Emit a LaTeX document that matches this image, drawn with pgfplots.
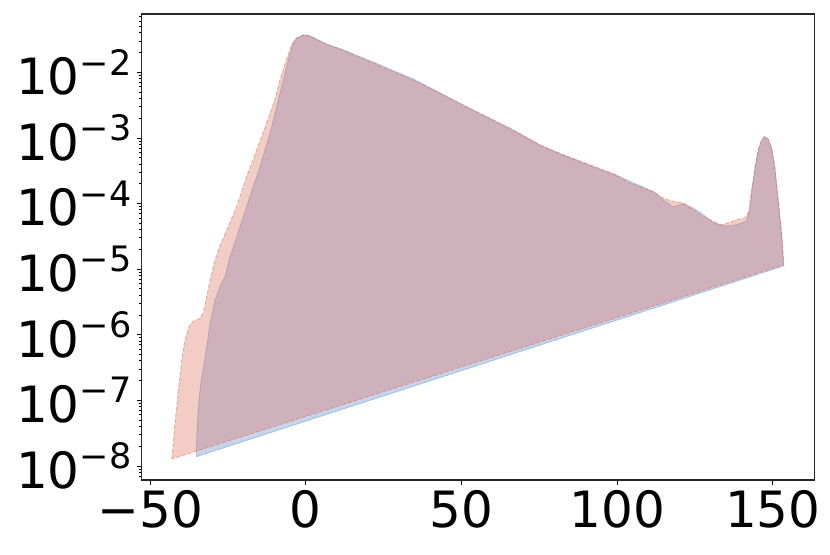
\documentclass[border=0pt]{standalone}
\usepackage{fontspec}
\setmainfont{DejaVu Sans}
\usepackage{pgfplots}
\pgfplotsset{compat=1.18}
\definecolor{redfill}{RGB}{224,109,92}
\definecolor{bluefill}{RGB}{78,129,198}
\newcommand\sups[1]{\raisebox{0.39em}{\fontsize{17.5}{17.5}\selectfont #1}}
\begin{document}
\begin{tikzpicture}
\useasboundingbox (-70.85pt,-37pt) rectangle (344.15pt,240pt);
\begin{axis}[
  scale only axis,
  width=336.3pt, height=233pt,
  at={(0,0)}, anchor=south west,
  ymode=log, log basis y=10,
  xmin=-52.7, xmax=163.3,
  ymin=6.1e-9, ymax=0.0774,
  xtick={-50,0,50,100,150},
  xticklabels={−50,0,50,100,150},
  ytickten={-8,-7,-6,-5,-4,-3,-2},
  yticklabels={10\sups{−8},10\sups{−7},10\sups{−6},10\sups{−5},10\sups{−4},10\sups{−3},10\sups{−2}},
  minor ytick={7e-9,8e-9,9e-9,
    2e-8,3e-8,4e-8,5e-8,6e-8,7e-8,8e-8,9e-8,
    2e-7,3e-7,4e-7,5e-7,6e-7,7e-7,8e-7,9e-7,
    2e-6,3e-6,4e-6,5e-6,6e-6,7e-6,8e-6,9e-6,
    2e-5,3e-5,4e-5,5e-5,6e-5,7e-5,8e-5,9e-5,
    2e-4,3e-4,4e-4,5e-4,6e-4,7e-4,8e-4,9e-4,
    2e-3,3e-3,4e-3,5e-3,6e-3,7e-3,8e-3,9e-3,
    2e-2,3e-2,4e-2,5e-2,6e-2,7e-2},
  tick pos=left,
  tick align=outside,
  major tick length=2.45pt,
  minor tick length=1.4pt,
  every tick/.style={black, line width=0.4pt},
  axis line style={line width=0.55pt, black!85},
  tick label style={font=\fontsize{25}{30}\selectfont, inner sep=0pt},
  yticklabel style={anchor=east, xshift=-2.5pt},
  xticklabel style={anchor=north, yshift=-2.5pt},
  clip=true,
]
\addplot[draw=bluefill, draw opacity=0.4, line width=0.4pt, fill=bluefill, fill opacity=0.33] coordinates {
(-35.2,1.38e-8) (-35.0,2.85e-8) (-34.5,8.13e-8) (-33.7,1.86e-7) (-32.3,4.68e-7)
(-30.7,1.51e-6) (-29.1,3.43e-6) (-27.5,5.5e-6) (-25.9,7.76e-6) (-24.3,1.58e-5)
(-23.5,2.0e-5) (-21.1,4.47e-5) (-17.9,1.29e-4) (-14.7,3.67e-4) (-11.5,1.17e-3)
(-8.8,3.8e-3) (-7.2,7.66e-3) (-5.6,1.55e-2) (-4.0,2.77e-2) (-3.0,3.31e-2)
(-0.8,3.72e-2) (1.36,3.58e-2) (3.5,3.19e-2) (6.7,2.68e-2) (11.0,2.3e-2)
(15.3,1.9e-2) (21.7,1.43e-2) (28.1,1.06e-2) (34.5,7.9e-3) (40.9,5.5e-3)
(47.3,3.8e-3) (53.8,2.62e-3) (60.2,1.85e-3) (66.6,1.3e-3) (75.2,7.7e-4)
(78.4,6.6e-4) (89.1,4.13e-4) (99.8,2.65e-4) (108.4,1.78e-4) (112.6,1.41e-4)
(115.3,1.08e-4) (118.0,8.85e-5) (121.2,9.93e-5) (124.4,8.53e-5) (127.6,6.76e-5)
(130.8,5.15e-5) (133.5,4.59e-5) (136.7,4.59e-5) (139.4,4.93e-5) (141.5,5.35e-5)
(142.6,8.05e-5) (143.2,1.5e-4) (144.3,3.6e-4) (145.3,6.5e-4) (146.4,9.2e-4)
(147.4,1.04e-3) (148.5,9.5e-4) (149.6,6.9e-4) (150.6,3.6e-4) (151.7,1.12e-4)
(152.8,3.4e-5) (153.5,1.12e-5)
} -- cycle;
\addplot[draw=redfill, draw opacity=0.5, line width=0.45pt, dash pattern=on 2pt off 1pt, fill=redfill, fill opacity=0.35] coordinates {
(-43.0,1.28e-8) (-42.0,4.56e-8) (-40.9,1.47e-7) (-39.8,4.20e-7) (-38.8,8.45e-7)
(-37.4,1.38e-6) (-36.1,1.61e-6) (-34.2,1.75e-6) (-32.9,2.15e-6) (-31.8,3.85e-6)
(-30.7,6.92e-6) (-29.1,1.40e-5) (-27.5,2.3e-5) (-24.9,4.47e-5) (-22.2,9.0e-5)
(-19.0,2.58e-4) (-15.75,6.6e-4) (-12.6,1.68e-3) (-9.95,3.8e-3) (-8.3,7.66e-3)
(-6.2,1.55e-2) (-4.6,2.63e-2) (-3.0,3.31e-2) (-0.8,3.72e-2) (1.36,3.58e-2)
(3.5,3.19e-2) (6.7,2.68e-2) (11.0,2.25e-2) (15.3,1.84e-2) (21.7,1.38e-2)
(28.1,1.02e-2) (34.5,7.66e-3) (40.9,5.40e-3) (47.3,3.80e-3) (53.8,2.67e-3)
(60.2,1.88e-3) (66.6,1.33e-3) (75.2,7.85e-4) (78.4,6.76e-4) (82.7,5.53e-4)
(87.0,4.65e-4) (91.3,3.89e-4) (95.5,3.27e-4) (99.8,2.74e-4) (104.1,2.04e-4)
(108.4,1.72e-4) (111.6,1.53e-4) (113.7,1.29e-4) (115.9,1.15e-4) (118.0,1.08e-4)
(121.2,1.02e-4) (124.4,8.05e-5) (127.6,6.37e-5) (130.8,5.35e-5) (133.5,4.75e-5)
(136.2,5.15e-5) (138.3,5.68e-5) (141.0,6.03e-5) (142.1,7.16e-5) (143.2,1.62e-4)
(144.3,3.67e-4) (145.3,6.61e-4) (146.4,9.33e-4) (147.4,1.05e-3) (148.5,9.55e-4)
(149.6,7.0e-4) (150.6,3.67e-4) (151.7,1.15e-4) (152.8,3.55e-5) (153.5,1.17e-5)
} -- cycle;
\end{axis}
\end{tikzpicture}
\end{document}
